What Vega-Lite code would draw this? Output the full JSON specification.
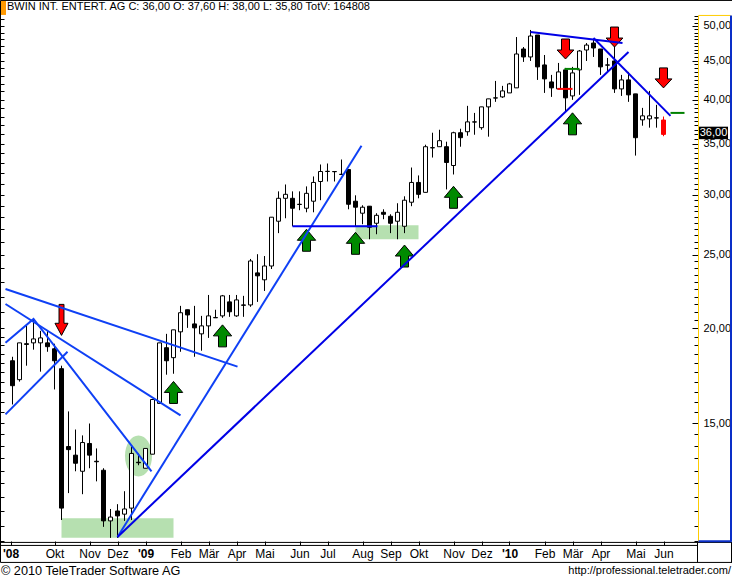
{
  "$schema": "https://vega.github.io/schema/vega-lite/v6.json",
  "width": 694,
  "height": 540,
  "autosize": "none",
  "padding": {"left": 4, "top": 1, "right": 34, "bottom": 39},
  "background": "white",
  "config": {"view": {"stroke": null}},
  "resolve": {"axis": {"y": "independent"}, "scale": {"color": "independent"}},
  "datasets": {
    "candles": [
      {"date":"2008-08-18","o":18.13,"h":18.35,"l":15.88,"c":16.81},
      {"date":"2008-08-25","o":17.12,"h":19.14,"l":17.02,"c":19.14},
      {"date":"2008-09-01","o":19.09,"h":20.15,"l":17.86,"c":19.05},
      {"date":"2008-09-08","o":19.14,"h":20.58,"l":18.75,"c":19.37},
      {"date":"2008-09-15","o":19.14,"h":19.85,"l":17.54,"c":19.43},
      {"date":"2008-09-22","o":19.14,"h":19.85,"l":18.63,"c":18.92},
      {"date":"2008-09-29","o":18.80,"h":19.09,"l":16.62,"c":18.13},
      {"date":"2008-10-06","o":17.70,"h":17.86,"l":11.19,"c":11.60},
      {"date":"2008-10-13","o":13.98,"h":15.55,"l":12.14,"c":13.85},
      {"date":"2008-10-20","o":13.62,"h":14.72,"l":12.97,"c":13.29},
      {"date":"2008-10-27","o":12.97,"h":14.46,"l":12.10,"c":14.15},
      {"date":"2008-11-03","o":14.11,"h":14.99,"l":13.09,"c":13.62},
      {"date":"2008-11-10","o":13.37,"h":13.90,"l":12.58,"c":13.35},
      {"date":"2008-11-17","o":13.01,"h":13.09,"l":10.96,"c":11.16},
      {"date":"2008-11-24","o":11.16,"h":11.57,"l":10.60,"c":11.29},
      {"date":"2008-12-01","o":11.50,"h":11.74,"l":10.60,"c":11.33},
      {"date":"2008-12-08","o":11.39,"h":12.21,"l":11.16,"c":11.57},
      {"date":"2008-12-15","o":11.60,"h":13.98,"l":11.19,"c":13.69},
      {"date":"2008-12-22","o":13.33,"h":13.69,"l":13.21,"c":13.31},
      {"date":"2008-12-29","o":13.09,"h":13.90,"l":13.09,"c":13.90},
      {"date":"2009-01-05","o":13.66,"h":16.12,"l":13.66,"c":16.12},
      {"date":"2009-01-12","o":15.93,"h":19.14,"l":15.93,"c":19.14},
      {"date":"2009-01-19","o":18.86,"h":19.67,"l":17.38,"c":18.13},
      {"date":"2009-01-26","o":18.30,"h":19.91,"l":17.43,"c":19.91},
      {"date":"2009-02-02","o":19.79,"h":21.41,"l":18.63,"c":20.97},
      {"date":"2009-02-09","o":21.16,"h":21.16,"l":20.03,"c":20.83},
      {"date":"2009-02-16","o":20.27,"h":21.41,"l":18.35,"c":20.03},
      {"date":"2009-02-23","o":19.67,"h":20.77,"l":18.69,"c":20.15},
      {"date":"2009-03-02","o":20.15,"h":22.13,"l":19.43,"c":20.77},
      {"date":"2009-03-09","o":20.65,"h":21.16,"l":20.65,"c":20.67},
      {"date":"2009-03-16","o":20.77,"h":22.13,"l":20.65,"c":22.07},
      {"date":"2009-03-23","o":21.67,"h":22.13,"l":20.71,"c":21.03},
      {"date":"2009-03-30","o":20.77,"h":22.13,"l":20.71,"c":21.80},
      {"date":"2009-04-06","o":21.47,"h":22.07,"l":20.71,"c":21.45},
      {"date":"2009-04-13","o":21.47,"h":24.68,"l":21.35,"c":24.53},
      {"date":"2009-04-20","o":23.66,"h":25.04,"l":21.67,"c":23.45},
      {"date":"2009-04-27","o":23.17,"h":24.90,"l":22.40,"c":24.16},
      {"date":"2009-05-04","o":24.16,"h":28.01,"l":23.94,"c":28.01},
      {"date":"2009-05-11","o":27.67,"h":30.29,"l":26.69,"c":29.66},
      {"date":"2009-05-18","o":29.66,"h":30.93,"l":27.92,"c":30.02},
      {"date":"2009-05-25","o":29.66,"h":30.29,"l":27.25,"c":28.78},
      {"date":"2009-06-01","o":29.13,"h":30.29,"l":28.61,"c":29.11},
      {"date":"2009-06-08","o":28.78,"h":30.75,"l":28.43,"c":30.11},
      {"date":"2009-06-15","o":29.40,"h":31.69,"l":28.43,"c":31.12},
      {"date":"2009-06-22","o":31.21,"h":32.86,"l":29.49,"c":32.17},
      {"date":"2009-06-29","o":32.17,"h":32.96,"l":31.21,"c":32.19},
      {"date":"2009-07-06","o":32.17,"h":32.17,"l":31.21,"c":32.15},
      {"date":"2009-07-13","o":31.88,"h":33.36,"l":31.88,"c":31.90},
      {"date":"2009-07-20","o":32.36,"h":32.36,"l":28.69,"c":29.13},
      {"date":"2009-07-27","o":29.40,"h":29.93,"l":27.25,"c":28.87},
      {"date":"2009-08-03","o":28.35,"h":29.04,"l":27.42,"c":28.87},
      {"date":"2009-08-10","o":28.96,"h":28.96,"l":26.20,"c":27.17},
      {"date":"2009-08-17","o":27.50,"h":28.35,"l":26.60,"c":28.17},
      {"date":"2009-08-24","o":28.43,"h":28.69,"l":27.84,"c":28.26},
      {"date":"2009-08-31","o":28.09,"h":28.26,"l":26.69,"c":27.50},
      {"date":"2009-09-07","o":27.67,"h":29.22,"l":26.20,"c":28.43},
      {"date":"2009-09-14","o":27.25,"h":29.84,"l":26.69,"c":29.49},
      {"date":"2009-09-21","o":29.31,"h":32.56,"l":28.96,"c":31.12},
      {"date":"2009-09-28","o":31.12,"h":31.79,"l":29.66,"c":30.02},
      {"date":"2009-10-05","o":30.20,"h":34.89,"l":30.20,"c":34.68},
      {"date":"2009-10-12","o":34.58,"h":36.18,"l":33.56,"c":34.56},
      {"date":"2009-10-19","o":34.68,"h":36.51,"l":34.68,"c":35.32},
      {"date":"2009-10-26","o":34.68,"h":35.21,"l":30.47,"c":33.06},
      {"date":"2009-11-02","o":32.76,"h":36.29,"l":31.88,"c":36.18},
      {"date":"2009-11-09","o":36.18,"h":36.62,"l":34.68,"c":35.64},
      {"date":"2009-11-16","o":36.29,"h":39.25,"l":35.85,"c":37.39},
      {"date":"2009-11-23","o":37.39,"h":38.42,"l":35.96,"c":37.37},
      {"date":"2009-11-30","o":36.74,"h":39.13,"l":36.51,"c":39.13},
      {"date":"2009-12-07","o":39.13,"h":40.09,"l":35.75,"c":40.09},
      {"date":"2009-12-14","o":40.21,"h":42.33,"l":39.73,"c":40.19},
      {"date":"2009-12-21","o":40.33,"h":41.70,"l":40.21,"c":41.07},
      {"date":"2009-12-28","o":40.82,"h":42.08,"l":40.82,"c":41.95},
      {"date":"2010-01-04","o":41.45,"h":48.35,"l":41.45,"c":45.93},
      {"date":"2010-01-11","o":46.63,"h":46.91,"l":44.84,"c":45.52},
      {"date":"2010-01-18","o":45.52,"h":49.40,"l":44.97,"c":48.50},
      {"date":"2010-01-25","o":48.65,"h":48.65,"l":42.46,"c":44.17},
      {"date":"2010-02-01","o":44.43,"h":45.79,"l":40.82,"c":42.59},
      {"date":"2010-02-08","o":42.20,"h":43.11,"l":40.33,"c":41.45},
      {"date":"2010-02-15","o":41.32,"h":44.70,"l":41.32,"c":43.50},
      {"date":"2010-02-22","o":43.77,"h":44.03,"l":38.54,"c":40.21},
      {"date":"2010-03-01","o":40.45,"h":44.17,"l":39.97,"c":43.37},
      {"date":"2010-03-08","o":43.77,"h":46.49,"l":40.58,"c":46.35},
      {"date":"2010-03-15","o":46.49,"h":47.48,"l":44.97,"c":47.19},
      {"date":"2010-03-22","o":47.48,"h":47.91,"l":45.52,"c":46.77},
      {"date":"2010-03-29","o":46.63,"h":46.63,"l":43.11,"c":44.17},
      {"date":"2010-04-05","o":44.43,"h":45.38,"l":43.50,"c":44.41},
      {"date":"2010-04-12","o":44.97,"h":47.62,"l":40.82,"c":41.32},
      {"date":"2010-04-19","o":41.32,"h":43.11,"l":40.45,"c":42.46},
      {"date":"2010-04-26","o":42.46,"h":43.50,"l":39.73,"c":40.58},
      {"date":"2010-05-03","o":40.70,"h":40.70,"l":33.76,"c":35.64},
      {"date":"2010-05-10","o":37.62,"h":39.01,"l":36.96,"c":38.08},
      {"date":"2010-05-17","o":37.73,"h":41.07,"l":36.74,"c":38.08},
      {"date":"2010-05-24","o":37.85,"h":39.37,"l":36.74,"c":37.83},
      {"date":"2010-05-31","o":37.60,"h":38.00,"l":35.80,"c":36.00}
    ],
    "trendlines": [
      {"id":"L1","date":"2008-08-11","price":22.53},
      {"id":"L1","date":"2009-03-31","price":17.81},
      {"id":"L2","date":"2008-08-11","price":21.53},
      {"id":"L2","date":"2009-02-02","price":15.36},
      {"id":"L3","date":"2008-08-11","price":19.14},
      {"id":"L3","date":"2008-09-08","price":20.58},
      {"id":"L3","date":"2009-01-04","price":12.97},
      {"id":"L4","date":"2008-08-11","price":15.41},
      {"id":"L4","date":"2008-10-12","price":18.63},
      {"id":"L5","date":"2008-12-01","price":10.63},
      {"id":"L5","date":"2009-08-02","price":34.79},
      {"id":"L6","date":"2008-12-01","price":10.63},
      {"id":"L6","date":"2010-04-26","price":46.21},
      {"id":"L7","date":"2009-05-25","price":27.25},
      {"id":"L7","date":"2009-08-18","price":27.25},
      {"id":"L8","date":"2010-01-18","price":49.10},
      {"id":"L8","date":"2010-04-20","price":47.48},
      {"id":"L9","date":"2010-03-22","price":48.20},
      {"id":"L9","date":"2010-06-07","price":38.08}
    ]
  },
  "encoding": {
    "x": {
      "field": "date",
      "type": "temporal",
      "scale": {"domain": ["2008-08-09T12:00:00Z", "2010-07-04T12:00:00Z"], "nice": false, "padding": 0},
      "axis": {
        "title": null,
        "domain": false,
        "grid": false,
        "tickSize": 4,
        "tickColor": "black",
        "labelFont": "Liberation Sans",
        "labelFontSize": 12,
        "labelColor": "black",
        "labelPadding": 3,
        "labelOverlap": false,
        "labelFlush": false,
        "labelBound": false,
        "labelFontWeight": {"condition": {"test": "time(datum.value)<1220000000000||month(time(datum.value)+345600000)===0", "value": "bold"}, "value": "normal"},
        "values": ["2008-08-16","2008-09-29","2008-11-03","2008-12-01","2008-12-29","2009-02-02","2009-03-02","2009-03-30","2009-04-27","2009-06-01","2009-06-29","2009-08-03","2009-08-31","2009-09-28","2009-11-02","2009-11-30","2009-12-28","2010-02-01","2010-03-01","2010-03-29","2010-05-03","2010-05-31"],
        "labelExpr": "time(datum.value)<1220000000000 ? \"'08\" : month(time(datum.value)+345600000)===0 ? \"'\"+timeFormat(time(datum.value)+345600000,'%y') : ['','Feb','Mär','Apr','Mai','Jun','Jul','Aug','Sep','Okt','Nov','Dez'][month(time(datum.value)+345600000)]"
      }
    },
    "y": {
      "field": "price",
      "type": "quantitative",
      "scale": {"type": "log", "domain": [10.5, 53.93], "nice": false},
      "axis": null
    }
  },
  "layer": [
    {
      "data": {"values": [
        {"date":"2008-10-06","date2":"2009-01-26","price":11.25,"price2":10.60},
        {"date":"2009-07-27","date2":"2009-09-28","price":27.34,"price2":26.20}
      ]},
      "mark": {"type": "rect", "color": "#b6e0b0"},
      "encoding": {
        "x2": {"field": "date2"},
        "y": {
          "field": "price",
          "type": "quantitative",
          "scale": {"type": "log", "domain": [10.5, 53.93], "nice": false},
          "axis": {
            "orient": "left",
            "title": null,
            "domain": false,
            "grid": false,
            "labels": false,
            "tickSize": 4,
            "tickColor": "black",
            "values": [10.5,11,11.5,12,12.5,13,13.5,14,14.5,15,15.5,16,16.5,17,17.5,18,18.5,19,19.5,20,21,22,23,24,25,26,27,28,29,30,31,32,33,34,35,36,37,38,39,40,41,42,43,44,45,46,47,48,49,50,51]
          }
        },
        "y2": {"field": "price2"}
      }
    },
    {
      "data": {"values": [{"date":"2008-12-22","price":13.58}]},
      "mark": {"type": "point", "filled": true, "opacity": 1, "color": "#b6e0b0", "size": 6724, "shape": "M-0.33,0A0.33,0.5 0 1 0 0.33,0A0.33,0.5 0 1 0 -0.33,0Z"},
      "encoding": {
        "y": {
          "field": "price",
          "type": "quantitative",
          "scale": {"type": "log", "domain": [10.5, 53.93], "nice": false},
          "axis": {
            "orient": "right",
            "offset": -4,
            "title": null,
            "domain": false,
            "grid": false,
            "labels": false,
            "tickSize": 4,
            "tickColor": "black",
            "values": [10.5,11,11.5,12,12.5,13,13.5,14,14.5,15,15.5,16,16.5,17,17.5,18,18.5,19,19.5,20,20.5,21,21.5,22,22.5,23,23.5,24,24.5,25,25.5,26,26.5,27,27.5,28,28.5,29,29.5,30,30.5,31,31.5,32,32.5,33,33.5,34,34.5,35,35.5,36,36.5,37,37.5,38,38.5,39,39.5,40,40.5,41,41.5,42,42.5,43,43.5,44,44.5,45,45.5,46,46.5,47,47.5,48,48.5,49,49.5,50,50.5,51,51.5]
          }
        }
      }
    },
    {
      "data": {"values": [
        {"date":"2008-08-06","date2":"2010-08-08","price":54.02,"price2":54.02},
        {"date":"2008-08-06","date2":"2008-08-06","price":54.02,"price2":9.84},
        {"date":"2008-08-06","date2":"2010-08-08","price":10.455,"price2":10.455},
        {"date":"2008-08-06","date2":"2010-07-04","price":10.36,"price2":10.36},
        {"date":"2008-08-06","date2":"2010-08-08","price":9.84,"price2":9.84},
        {"date":"2010-07-04","date2":"2010-07-04","price":10.455,"price2":9.84},
        {"date":"2010-08-07","date2":"2010-08-07","price":10.455,"price2":9.84}
      ]},
      "mark": {"type": "rule", "color": "black", "strokeWidth": 1},
      "encoding": {
        "x2": {"field": "date2"},
        "y": {
          "field": "price",
          "type": "quantitative",
          "scale": {"type": "log", "domain": [10.5, 53.93], "nice": false},
          "axis": {
            "orient": "right",
            "offset": -6,
            "title": null,
            "domain": false,
            "grid": false,
            "tickSize": 6,
            "tickColor": "black",
            "labelFont": "Liberation Sans",
            "labelFontSize": 11,
            "labelColor": "black",
            "labelPadding": 5,
            "labelBound": false,
            "labelFlush": false,
            "labelOverlap": false,
            "values": [15,20,25,30,35,40,45,50],
            "labelExpr": "replace(format(datum.value,'.2f'),'.',',')"
          }
        },
        "y2": {"field": "price2"}
      }
    },
    {
      "data": {"values": [
        {"date":"2010-07-05","date2":"2010-07-05","price":51.62,"price2":10.5},
        {"date":"2010-07-05","date2":"2010-08-06","price":51.62,"price2":51.62}
      ]},
      "mark": {"type": "rule", "color": "#ffcc00", "strokeWidth": 1},
      "encoding": {"x2": {"field": "date2"}, "y2": {"field": "price2"}}
    },
    {
      "data": {"values": [
        {"date":"2010-08-06T12:00:00Z","date2":"2010-08-06T12:00:00Z","price":51.62,"price2":10.48},
        {"date":"2010-07-05","date2":"2010-08-07","price":10.49,"price2":10.49}
      ]},
      "mark": {"type": "rule", "color": "#0a2fc8", "strokeWidth": 2},
      "encoding": {"x2": {"field": "date2"}, "y2": {"field": "price2"}}
    },
    {
      "data": {"name": "candles"},
      "mark": {"type": "rule", "strokeWidth": 1},
      "encoding": {
        "y": {"field": "h", "type": "quantitative", "scale": {"type": "log", "domain": [10.5, 53.93], "nice": false}, "axis": null},
        "y2": {"field": "l"},
        "color": {"condition": {"test": "datum.c===36", "value": "#ff0000"}, "value": "black"}
      }
    },
    {
      "data": {"name": "candles"},
      "mark": {"type": "bar", "size": 4, "strokeWidth": 1},
      "encoding": {
        "y": {"field": "o", "type": "quantitative", "scale": {"type": "log", "domain": [10.5, 53.93], "nice": false}, "axis": null},
        "y2": {"field": "c"},
        "fill": {"condition": [{"test": "datum.c===36", "value": "#ff0000"}, {"test": "datum.c>datum.o", "value": "white"}], "value": "black"},
        "stroke": {"condition": {"test": "datum.c===36", "value": "#ff0000"}, "value": "black"}
      }
    },
    {
      "data": {"values": [
        {"date":"2009-01-26","price":16.47},
        {"date":"2009-03-16","price":19.55},
        {"date":"2009-06-08","price":26.12},
        {"date":"2009-07-27","price":25.88},
        {"date":"2009-09-14","price":24.90},
        {"date":"2009-11-02","price":29.75},
        {"date":"2010-03-01","price":37.17}
      ]},
      "mark": {"type": "point", "filled": true, "opacity": 1, "fill": "#008a00", "stroke": "black", "strokeWidth": 1, "size": 1600, "shape": "M0,-0.55L0.46,0L0.2,0L0.2,0.55L-0.2,0.55L-0.2,0L-0.46,0Z"}
    },
    {
      "data": {"values": [
        {"date":"2010-02-22","price":46.63},
        {"date":"2010-04-12","price":48.35},
        {"date":"2010-05-31","price":42.72}
      ]},
      "mark": {"type": "point", "filled": true, "opacity": 1, "fill": "#ff0000", "stroke": "black", "strokeWidth": 1, "size": 1600, "shape": "M-0.2,-0.5L0.2,-0.5L0.2,0.05L0.42,0.05L0,0.5L-0.42,0.05L-0.2,0.05Z"}
    },
    {
      "data": {"values": [{"date":"2008-10-06","price":20.52}]},
      "mark": {"type": "point", "filled": true, "opacity": 1, "fill": "#ff0000", "stroke": "black", "strokeWidth": 1, "size": 3844, "shape": "M-0.08,-0.5L0.08,-0.5L0.08,0.11L0.21,0.11L0,0.5L-0.21,0.11L-0.08,0.11Z"}
    },
    {
      "data": {"name": "trendlines"},
      "mark": {"type": "line", "strokeWidth": 2, "interpolate": "linear"},
      "encoding": {
        "color": {
          "field": "id",
          "type": "nominal",
          "scale": {"domain": ["L1","L2","L3","L4","L5","L6","L7","L8","L9"], "range": ["#0f40f5","#0f40f5","#0f40f5","#0f40f5","#0f40f5","#0000e6","#0000f0","#0000e6","#0000e6"]},
          "legend": null
        }
      }
    },
    {
      "data": {"values": [
        {"date":"2010-02-21","date2":"2010-03-08","price":43.90,"kind":"up"},
        {"date":"2010-02-14","date2":"2010-03-01","price":41.32,"kind":"down"},
        {"date":"2010-06-07","date2":"2010-06-21","price":38.42,"kind":"up"}
      ]},
      "mark": {"type": "rule", "strokeWidth": 2},
      "encoding": {
        "x2": {"field": "date2"},
        "color": {"field": "kind", "type": "nominal", "scale": {"domain": ["up","down"], "range": ["#008000","#ff0000"]}, "legend": null}
      }
    },
    {
      "data": {"values": [{"date":"2008-08-06T12:00:00Z","date2":"2008-08-11T12:00:00Z","price":53.93,"price2":51.7}]},
      "mark": {"type": "rect", "color": "#ff9900"},
      "encoding": {"x2": {"field": "date2"}, "y2": {"field": "price2"}}
    },
    {
      "data": {"values": [{"date":"2010-07-05T12:00:00Z","date2":"2010-08-03T12:00:00Z","price":36.85,"price2":35.48}]},
      "mark": {"type": "rect", "color": "black"},
      "encoding": {"x2": {"field": "date2"}, "y2": {"field": "price2"}}
    },
    {
      "data": {"values": [{"date":"2010-07-20","price":36.11,"label":"36,00"}]},
      "mark": {"type": "text", "font": "Liberation Sans", "fontSize": 11, "color": "white", "align": "center", "baseline": "middle"},
      "encoding": {"text": {"field": "label"}}
    },
    {
      "data": {"values": [{"date":"2008-08-12T12:00:00Z","price":52.88,"label":"BWIN INT. ENTERT. AG C: 36,00 O: 37,60 H: 38,00 L: 35,80 TotV: 164808"}]},
      "mark": {"type": "text", "font": "Liberation Sans", "fontSize": 11, "color": "black", "align": "left", "baseline": "middle"},
      "encoding": {"text": {"field": "label"}}
    },
    {
      "data": {"values": [{"date":"2008-08-06T12:00:00Z","price":9.60,"label":"© 2010 TeleTrader Software AG"}]},
      "mark": {"type": "text", "font": "Liberation Sans", "fontSize": 12.7, "color": "black", "align": "left", "baseline": "middle"},
      "encoding": {"text": {"field": "label"}}
    },
    {
      "data": {"values": [{"date":"2010-08-06T12:00:00Z","price":9.60,"label":"http://professional.teletrader.com/"}]},
      "mark": {"type": "text", "font": "Liberation Sans", "fontSize": 11, "color": "black", "align": "right", "baseline": "middle"},
      "encoding": {"text": {"field": "label"}}
    }
  ]
}
